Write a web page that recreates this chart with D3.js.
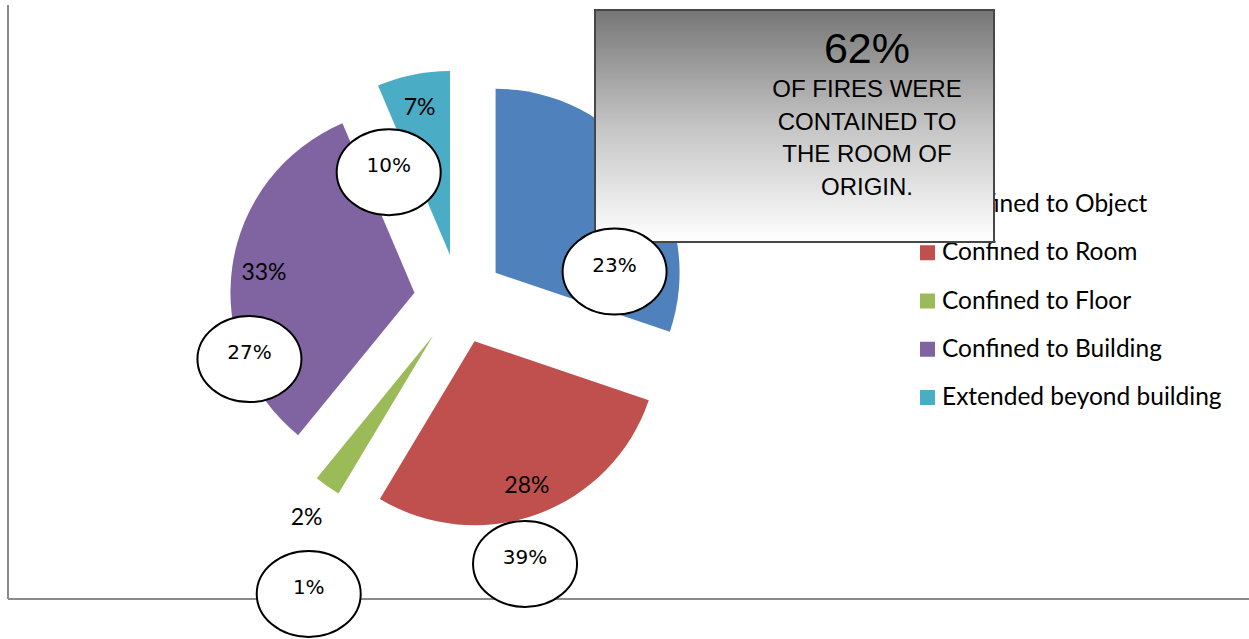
<!DOCTYPE html>
<html>
<head>
<meta charset="utf-8">
<script src="https://cdn.jsdelivr.net/npm/d3@7"></script>
<style>
  html, body { margin: 0; padding: 0; background: #ffffff; }
  svg { display: block; }
</style>
</head>
<body>
<svg id="chart" width="1249" height="639"></svg>
<script>
// ---- data ----
const categories = ["Confined to Object", "Confined to Room", "Confined to Floor", "Confined to Building", "Extended beyond building"];
// slice shares
const values = [30.2, 28.4, 2.3, 32.7, 6.4];
// data labels as printed on the chart
const labelTexts = ["30%", "28%", "2%", "33%", "7%"];
const colors = ["#4F81BD", "#C0504D", "#9BBB59", "#8064A2", "#4BACC6"];
// comparison callouts (ellipses), one per category
const calloutValues = [23, 39, 1, 27, 10];
// callout placement around pie centre (degrees clockwise from top, radius px)
const calloutAngles = [80, 166, 207, 254, 331];
const calloutRadii = [158, 273, 331, 218, 145];
// headline box text
const headline = "62%";
const headlineLines = ["OF FIRES WERE", "CONTAINED TO", "THE ROOM OF", "ORIGIN."];

// ---- layout ----
const svg = d3.select("#chart");
const cx = 459, cy = 299, R = 184, explode = 45, labelR = 152, smallLabelR = 220;

// frame lines
svg.append("line").attr("x1", 8).attr("x2", 8).attr("y1", 5).attr("y2", 599)
  .attr("stroke", "#8a8a8a").attr("stroke-width", 2);
svg.append("line").attr("x1", 8).attr("x2", 1249).attr("y1", 599).attr("y2", 599)
  .attr("stroke", "#8a8a8a").attr("stroke-width", 2);

const pie = d3.pie().sort(null).value(d => d)(values);
const arc = d3.arc().innerRadius(0).outerRadius(R);
const fmt = v => v + "%";

const g = svg.append("g").attr("transform", `translate(${cx},${cy})`);
g.selectAll("path.slice").data(pie).join("path")
  .attr("class", "slice")
  .attr("d", arc)
  .attr("fill", (d, i) => colors[i])
  .attr("transform", d => {
    const [ox, oy] = d3.pointRadial((d.startAngle + d.endAngle) / 2, explode);
    return `translate(${ox},${oy})`;
  });

g.selectAll("text.lbl").data(pie).join("text")
  .attr("class", "lbl")
  .attr("transform", d => {
    const mid = (d.startAngle + d.endAngle) / 2;
    const small = (d.endAngle - d.startAngle) < 0.2;
    const [x, y] = d3.pointRadial(mid, explode + (small ? smallLabelR : labelR));
    return `translate(${x},${y})`;
  })
  .attr("text-anchor", "middle")
  .attr("dominant-baseline", "central")
  .attr("font-family", "Lato, 'Open Sans', sans-serif")
  .attr("font-size", 23)
  .attr("fill", "#000")
  .text(d => labelTexts[d.index]);

// legend
const lg = svg.append("g").attr("transform", "translate(920,0)");
const rowY = d3.scalePoint().domain(categories).range([212, 405]);
categories.forEach((c, i) => {
  const y = rowY(c);
  lg.append("rect").attr("x", 0).attr("y", y - 15).attr("width", 15).attr("height", 15).attr("fill", colors[i]);
  lg.append("text").attr("x", 22).attr("y", y)
    .attr("font-family", "Lato, 'Open Sans', sans-serif").attr("font-size", 24.5)
    .attr("fill", "#000").text(c);
});

// headline box
const defs = svg.append("defs");
const grad = defs.append("linearGradient").attr("id", "boxGrad")
  .attr("x1", 0).attr("y1", 0).attr("x2", 0).attr("y2", 1);
grad.append("stop").attr("offset", "0%").attr("stop-color", "#767676");
grad.append("stop").attr("offset", "50%").attr("stop-color", "#c4c4c4");
grad.append("stop").attr("offset", "100%").attr("stop-color", "#ffffff");

svg.append("rect").attr("x", 595).attr("y", 10).attr("width", 399).attr("height", 232)
  .attr("fill", "url(#boxGrad)").attr("stroke", "#474747").attr("stroke-width", 2);
const bx = 867;
svg.append("text").attr("x", bx).attr("y", 63).attr("text-anchor", "middle")
  .attr("font-family", "'Liberation Sans', Arial, sans-serif").attr("font-size", 43)
  .attr("fill", "#000").text(headline);
headlineLines.forEach((t, i) => {
  svg.append("text").attr("x", bx).attr("y", 97 + i * 32.7).attr("text-anchor", "middle")
    .attr("font-family", "'Liberation Sans', Arial, sans-serif").attr("font-size", 24)
    .attr("fill", "#000").text(t);
});

// callout ellipses
const cg = svg.append("g").attr("transform", `translate(${cx},${cy})`);
calloutValues.forEach((v, i) => {
  const [x, y] = d3.pointRadial(calloutAngles[i] * Math.PI / 180, calloutRadii[i]);
  cg.append("ellipse").attr("cx", x).attr("cy", y).attr("rx", 52).attr("ry", 43)
    .attr("fill", "#fff").attr("stroke", "#000").attr("stroke-width", 2);
  cg.append("text").attr("x", x).attr("y", y - 7)
    .attr("text-anchor", "middle").attr("dominant-baseline", "central")
    .attr("font-family", "'DejaVu Sans', Verdana, sans-serif").attr("font-size", 20)
    .attr("fill", "#000").text(fmt(v));
});
</script>
</body>
</html>
